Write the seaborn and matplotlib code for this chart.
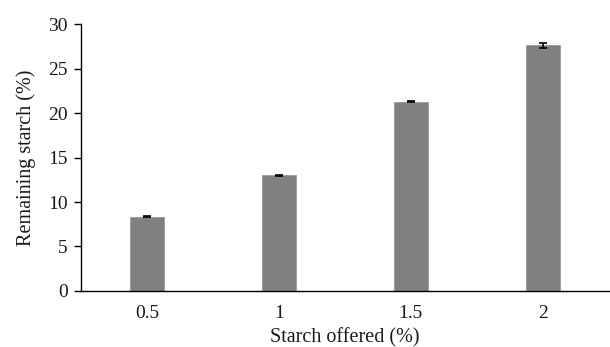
import matplotlib
matplotlib.use("Agg")
import matplotlib.pyplot as plt
import seaborn as sns
import pandas as pd

# Starch offered vs. remaining starch
offered = ["0.5", "1", "1.5", "2"]
remaining = [8.35, 13.0, 21.25, 27.6]
sem = [0.05, 0.05, 0.05, 0.28]

sns.set_theme(style="white")
plt.rcParams["font.family"] = ["Liberation Serif", "DejaVu Serif"]

df = pd.DataFrame({"offered": offered, "remaining": remaining})

fig = plt.figure(figsize=(6.10, 3.47), dpi=100)
ax = fig.add_axes([0.1328, 0.1614, 0.865, 0.7694])

sns.barplot(data=df, x="offered", y="remaining", color="#808080",
            saturation=1, width=0.26, edgecolor="#9a9a9a", linewidth=0.6, ax=ax)
ax.errorbar(range(len(offered)), remaining, yerr=sem, fmt="none",
            ecolor="black", elinewidth=1.2, capsize=3.2, capthick=1.2)

ax.set_ylim(0, 30)
ax.set_xlim(-0.5, 3.5)
ax.set_yticks([0, 5, 10, 15, 20, 25, 30])
ax.set_xlabel("Starch offered (%)", fontsize=14.5, color="#1a1a1a", labelpad=4.5)
ax.set_ylabel("Remaining starch (%)", fontsize=14.5, color="#1a1a1a", labelpad=9)

for side in ["top", "right"]:
    ax.spines[side].set_visible(False)
for side in ["left", "bottom"]:
    ax.spines[side].set_color("black")
    ax.spines[side].set_linewidth(1.0)

ax.tick_params(axis="y", left=True, length=5, width=1, color="black",
               labelsize=14, labelcolor="#1a1a1a", pad=4.5)
ax.tick_params(axis="x", bottom=False, labelsize=14, labelcolor="#1a1a1a", pad=4)

fig.savefig("out.png", dpi=100, facecolor="white")
